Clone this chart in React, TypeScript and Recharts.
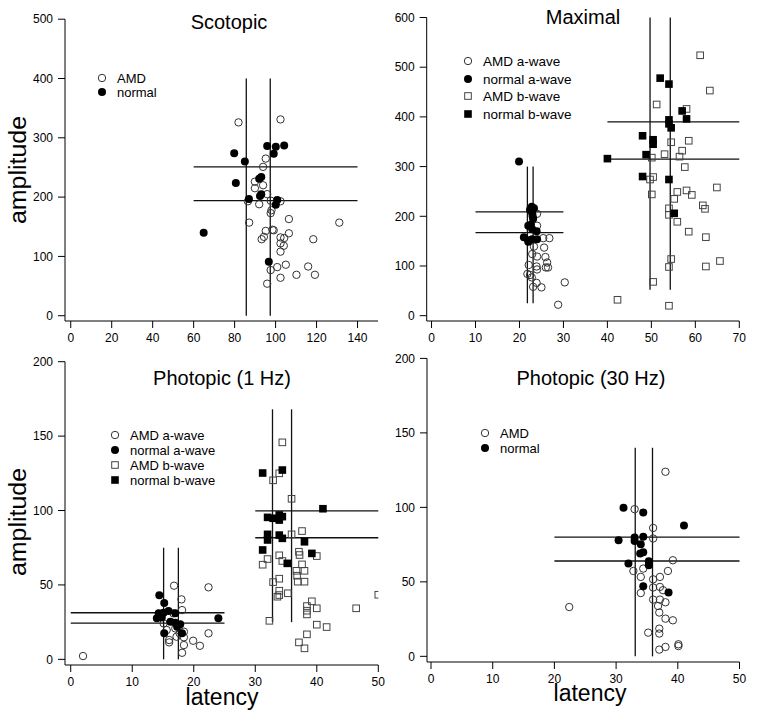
import React from "react";
import { ScatterChart, Scatter, XAxis, YAxis, ReferenceLine } from "recharts";

type Pt = [number, number];

// [latency, amplitude]
const scotopicAmd: Pt[] = [
  [81.9, 326], [102.4, 331], [95.2, 265], [93.9, 251], [89.9, 226], [89.9, 215], [93.9, 220], [95.9, 205],
  [86.5, 193], [92.0, 188], [97.6, 194], [102.4, 193], [98.0, 178], [97.6, 173], [87.1, 157], [106.5, 163],
  [131.1, 157], [95.2, 143], [98.5, 145], [99.1, 144], [106.5, 139], [93.2, 129], [94.3, 133], [102.4, 132],
  [104.2, 131], [102.4, 122], [104.0, 118], [102.4, 108], [118.4, 129], [105.0, 86], [100.8, 82], [97.6, 77],
  [115.9, 83], [110.2, 69], [119.2, 69], [102.4, 64], [95.9, 54],
];
const scotopicNormal: Pt[] = [
  [79.8, 274], [85.0, 260], [95.9, 286], [100.1, 285], [104.2, 287], [99.1, 273], [80.6, 224], [92.0, 231],
  [93.0, 234], [87.0, 197], [92.4, 202], [93.0, 205], [100.8, 195], [100.1, 187], [64.9, 140], [96.7, 91],
];

const maximalAmdA: Pt[] = [
  [24.0, 205], [24.0, 181], [25.4, 156], [26.8, 156], [23.3, 139], [25.6, 137], [22.9, 124], [24.0, 119],
  [25.9, 118], [26.3, 107], [26.0, 97], [26.5, 97], [23.9, 99], [22.1, 102], [24.0, 93], [21.8, 84],
  [22.4, 82], [22.8, 77], [23.9, 66], [23.1, 58], [25.0, 57], [28.8, 22], [30.3, 67],
];
const maximalNormalA: Pt[] = [
  [19.9, 310], [22.8, 219], [23.3, 216], [22.4, 213], [22.9, 206], [23.0, 200], [23.1, 195], [22.0, 181],
  [22.6, 183], [22.9, 174], [23.9, 170], [21.0, 158], [22.0, 152], [22.9, 154], [24.0, 154], [22.0, 149],
];
const maximalAmdB: Pt[] = [
  [61.1, 524], [63.3, 453], [51.2, 425], [58.0, 416], [54.5, 349], [58.5, 352], [57.0, 332], [53.0, 325],
  [56.4, 320], [50.1, 318], [57.6, 299], [50.4, 279], [49.7, 274], [50.1, 244], [55.9, 249], [58.0, 252],
  [59.2, 243], [55.2, 235], [64.9, 258], [61.7, 222], [62.2, 215], [54.0, 216], [54.0, 203], [55.9, 189],
  [58.5, 169], [62.4, 158], [54.5, 114], [54.0, 98], [62.4, 99], [65.6, 110], [50.4, 68], [42.3, 32], [54.0, 20],
];
const maximalNormalB: Pt[] = [
  [52.0, 478], [54.0, 466], [57.0, 412], [58.0, 396], [54.0, 394], [54.0, 386], [54.5, 378], [48.0, 362],
  [50.4, 354], [50.4, 345], [48.8, 324], [40.0, 316], [48.0, 280], [54.0, 274], [55.2, 206],
];

const photo1AmdA: Pt[] = [
  [16.8, 49.5], [22.4, 48.4], [18.0, 40.3], [18.1, 33.1], [16.7, 30.9], [15.1, 24.2], [15.6, 19.7], [17.0, 20.8],
  [18.4, 18.6], [22.4, 17.5], [18.4, 14.8], [17.2, 15.2], [16.0, 13], [16.0, 11.4], [19.9, 12.5], [21.0, 9.1],
  [18.4, 9.6], [18.1, 4.4], [2.0, 2.2], [17.7, 17.5],
];
const photo1NormalA: Pt[] = [
  [14.4, 43], [15.2, 37.8], [14.3, 30.9], [15.1, 31.3], [15.9, 32.5], [14.0, 27.6], [14.8, 28.2], [17.0, 30.9],
  [16.2, 25.3], [17.0, 24.6], [17.8, 23.5], [17.3, 21.9], [18.1, 17.5], [15.2, 17.5], [24.0, 27.6],
];
const photo1AmdB: Pt[] = [
  [34.4, 145.8], [33.9, 125], [32.9, 120.3], [35.9, 107.9], [37.6, 86.2], [35.9, 84], [37.1, 72.3], [37.2, 70.1],
  [40.0, 69.4], [33.9, 69.9], [34.4, 66.1], [32.0, 67.4], [31.2, 63.6], [37.6, 63.8], [36.7, 59.5], [38.0, 59.5],
  [36.8, 56.2], [36.9, 52.2], [38.0, 52.2], [33.9, 54.2], [32.9, 51.9], [33.9, 46.1], [33.6, 42.1], [33.9, 43.2],
  [35.3, 44.4], [50.0, 43.4], [39.2, 39], [38.4, 35.8], [38.4, 32.7], [40.0, 34.3], [38.4, 30.2], [46.4, 34.3],
  [32.3, 25.9], [40.0, 23.3], [41.6, 21.7], [38.4, 16.8], [37.1, 11.4], [38.0, 7.4],
];
const photo1NormalB: Pt[] = [
  [31.2, 125.2], [34.4, 127.2], [41.0, 101.2], [32.0, 95.4], [32.9, 94.8], [33.9, 97], [34.4, 95.9], [33.9, 93.6],
  [32.0, 84], [32.0, 80.2], [33.9, 83.5], [34.4, 81.3], [38.0, 79], [31.2, 73.5], [39.2, 71.2], [35.2, 64.5],
];

const photo30Amd: Pt[] = [
  [38.0, 123.9], [33.0, 98.8], [36.0, 86.2], [36.0, 79.1], [39.2, 64.5], [38.4, 57.3], [34.4, 58.9], [32.8, 57.3],
  [34.0, 53.3], [36.0, 51.7], [37.1, 53.3], [36.0, 46.2], [37.1, 46.6], [34.0, 42.5], [37.6, 44.4], [36.0, 38.1],
  [37.1, 38.1], [38.0, 36.3], [36.8, 33.8], [37.0, 29.4], [38.0, 25.3], [39.2, 24.2], [22.4, 33.1], [35.2, 15.9],
  [37.0, 18.6], [37.0, 15.3], [40.1, 8.1], [40.1, 6.9], [38.0, 6.3], [37.0, 4.5],
];
const photo30Normal: Pt[] = [
  [31.2, 99.7], [34.4, 96.6], [41.0, 87.8], [30.4, 78], [33.0, 79.8], [33.0, 77.5], [34.4, 80.2], [34.0, 75.3],
  [33.9, 69], [34.4, 69.9], [35.3, 63.8], [35.3, 61.2], [32.0, 62.3], [34.4, 47], [38.5, 42.8],
];

// crosshair lines: vertical at vx spanning vy, horizontal at hy spanning hx
const scotopicCross = [{ vx: [85.7, 97.4], vy: [0, 400], hy: [194, 251], hx: [60, 140] }];
const maximalCross = [
  { vx: [21.8, 23.1], vy: [25, 300], hy: [167, 209], hx: [10, 30] },
  { vx: [49.7, 54.3], vy: [52, 600], hy: [315, 390], hx: [40, 70] },
];
const photo1Cross = [
  { vx: [15.1, 17.5], vy: [0, 75], hy: [24.4, 31.3], hx: [0, 25] },
  { vx: [32.8, 35.9], vy: [25, 168], hy: [81.7, 99.7], hx: [30, 50] },
];
const photo30Cross = [{ vx: [33.1, 35.9], vy: [0, 140], hy: [64, 80], hx: [20, 50] }];

const W = 777;
const H = 714;
const FONT = "'Liberation Sans', Arial, sans-serif";
const TICK_FONT = "'Liberation Sans Narrow', 'Arial Narrow', 'Liberation Sans', Arial, sans-serif";

const toXY = (pts: Pt[]) => pts.map(([x, y]) => ({ x, y }));

const OpenCircle = (p: any) => <circle cx={p.cx} cy={p.cy} r={3.7} fill="none" stroke="#333" strokeWidth={1} />;
const DotCircle = (p: any) => <circle cx={p.cx} cy={p.cy} r={4} fill="#000" />;
const OpenSquare = (p: any) => (
  <rect x={p.cx - 3.3} y={p.cy - 3.3} width={6.6} height={6.6} fill="none" stroke="#444" strokeWidth={1} />
);
const DotSquare = (p: any) => <rect x={p.cx - 3.8} y={p.cy - 3.8} width={7.6} height={7.6} fill="#000" />;

type Cross = { vx: number[]; vy: number[]; hy: number[]; hx: number[] };

function crossLines(list: Cross[]) {
  const out: React.ReactNode[] = [];
  list.forEach((c, i) => {
    c.vx.forEach((x, j) =>
      out.push(
        <ReferenceLine key={`v${i}${j}`} segment={[{ x, y: c.vy[0] }, { x, y: c.vy[1] }]} stroke="#111" strokeWidth={1.3} ifOverflow="visible" />
      )
    );
    c.hy.forEach((y, j) =>
      out.push(
        <ReferenceLine key={`h${i}${j}`} segment={[{ x: c.hx[0], y }, { x: c.hx[1], y }]} stroke="#111" strokeWidth={1.3} ifOverflow="visible" />
      )
    );
  });
  return out;
}

type Box = { left: number; top: number; right: number; bottom: number };

function Panel(props: {
  box: Box;
  xDomain: number[];
  xTicks: number[];
  yDomain: number[];
  yTicks: number[];
  series: { data: Pt[]; shape: any }[];
  cross: Cross[];
}) {
  const { box } = props;
  const YW = 40;
  const XH = 30;
  const tick = { fontSize: 12, fill: "#000", fontFamily: TICK_FONT };
  return (
    <div style={{ position: "absolute", left: 0, top: 0 }}>
      <ScatterChart
        width={W}
        height={H}
        margin={{ top: box.top, left: box.left - YW, right: W - box.right, bottom: H - box.bottom - XH }}
      >
        <XAxis
          type="number"
          dataKey="x"
          domain={props.xDomain}
          ticks={props.xTicks}
          interval={0}
          allowDataOverflow
          height={XH}
          tickSize={7}
          tickMargin={5}
          tick={tick}
          axisLine={{ stroke: "#000" }}
          tickLine={{ stroke: "#000" }}
        />
        <YAxis
          type="number"
          dataKey="y"
          domain={props.yDomain}
          ticks={props.yTicks}
          interval={0}
          allowDataOverflow
          width={YW}
          tickSize={7}
          tickMargin={5}
          tick={tick}
          axisLine={{ stroke: "#000" }}
          tickLine={{ stroke: "#000" }}
        />
        {crossLines(props.cross)}
        {props.series.map((s, i) => (
          <Scatter key={i} data={toXY(s.data)} shape={s.shape} isAnimationActive={false} />
        ))}
      </ScatterChart>
    </div>
  );
}

function LegendItem({ x, y, kind, label, size = 13 }: { x: number; y: number; kind: string; label: string; size?: number }) {
  let sym: React.ReactNode;
  if (kind === "oc") sym = <circle cx={x} cy={y} r={3.7} fill="none" stroke="#333" />;
  else if (kind === "fc") sym = <circle cx={x} cy={y} r={4} fill="#000" />;
  else if (kind === "os") sym = <rect x={x - 3.3} y={y - 3.3} width={6.6} height={6.6} fill="none" stroke="#444" />;
  else sym = <rect x={x - 3.8} y={y - 3.8} width={7.6} height={7.6} fill="#000" />;
  return (
    <g>
      {sym}
      <text x={x + 15} y={y} dominantBaseline="central" fontSize={size} fontFamily={FONT} fill="#000">
        {label}
      </text>
    </g>
  );
}

const range = (a: number, b: number, s: number) => {
  const r: number[] = [];
  for (let v = a; v <= b; v += s) r.push(v);
  return r;
};

export default function App() {
  return (
    <div style={{ position: "absolute", left: 0, top: 0, width: W, height: H, background: "#fff", overflow: "hidden" }}>
      <Panel
        box={{ left: 65, top: 19.2, right: 378, bottom: 321 }}
        xDomain={[-2.8, 150]}
        xTicks={range(0, 140, 20)}
        yDomain={[-8.9, 500]}
        yTicks={range(0, 500, 100)}
        series={[
          { data: scotopicAmd, shape: OpenCircle },
          { data: scotopicNormal, shape: DotCircle },
        ]}
        cross={scotopicCross}
      />
      <Panel
        box={{ left: 426.7, top: 17.5, right: 739.3, bottom: 321 }}
        xDomain={[-1.1, 70]}
        xTicks={range(0, 70, 10)}
        yDomain={[-10.7, 600]}
        yTicks={range(0, 600, 100)}
        series={[
          { data: maximalAmdA, shape: OpenCircle },
          { data: maximalNormalA, shape: DotCircle },
          { data: maximalAmdB, shape: OpenSquare },
          { data: maximalNormalB, shape: DotSquare },
        ]}
        cross={maximalCross}
      />
      <Panel
        box={{ left: 65, top: 361.7, right: 378.3, bottom: 665 }}
        xDomain={[-0.93, 50]}
        xTicks={range(0, 50, 10)}
        yDomain={[-3.8, 200]}
        yTicks={range(0, 200, 50)}
        series={[
          { data: photo1AmdA, shape: OpenCircle },
          { data: photo1NormalA, shape: DotCircle },
          { data: photo1AmdB, shape: OpenSquare },
          { data: photo1NormalB, shape: DotSquare },
        ]}
        cross={photo1Cross}
      />
      <Panel
        box={{ left: 427, top: 358.4, right: 739.5, bottom: 662 }}
        xDomain={[-0.65, 50]}
        xTicks={range(0, 50, 10)}
        yDomain={[-3.8, 200]}
        yTicks={range(0, 200, 50)}
        series={[
          { data: photo30Amd, shape: OpenCircle },
          { data: photo30Normal, shape: DotCircle },
        ]}
        cross={photo30Cross}
      />
      <svg width={W} height={H} style={{ position: "absolute", left: 0, top: 0, pointerEvents: "none" }}>
        <g fontFamily={FONT} fill="#000" fontSize={20} textAnchor="middle">
          <text x={229} y={29}>Scotopic</text>
          <text x={583} y={24}>Maximal</text>
          <text x={222} y={385}>Photopic (1 Hz)</text>
          <text x={591} y={385}>Photopic (30 Hz)</text>
        </g>
        <g fontFamily={FONT} fill="#000" fontSize={23} textAnchor="middle">
          <text x={18} y={170} transform="rotate(-90 18 170)" dominantBaseline="central" textLength={108} lengthAdjust="spacingAndGlyphs">amplitude</text>
          <text x={18} y={522} transform="rotate(-90 18 522)" dominantBaseline="central" textLength={108} lengthAdjust="spacingAndGlyphs">amplitude</text>
          <text x={222} y={705}>latency</text>
          <text x={590} y={701}>latency</text>
        </g>
        <LegendItem x={102} y={78} kind="oc" label="AMD" />
        <LegendItem x={102} y={92} kind="fc" label="normal" />
        <LegendItem x={468} y={61} kind="oc" label="AMD a-wave" size={13.5} />
        <LegendItem x={468} y={79} kind="fc" label="normal a-wave" size={13.5} />
        <LegendItem x={468} y={96} kind="os" label="AMD b-wave" size={13.5} />
        <LegendItem x={468} y={114} kind="fs" label="normal b-wave" size={13.5} />
        <LegendItem x={115} y={435} kind="oc" label="AMD a-wave" />
        <LegendItem x={115} y={450} kind="fc" label="normal a-wave" />
        <LegendItem x={115} y={465} kind="os" label="AMD b-wave" />
        <LegendItem x={115} y={480} kind="fs" label="normal b-wave" />
        <LegendItem x={485} y={433} kind="oc" label="AMD" />
        <LegendItem x={485} y={448} kind="fc" label="normal" />
      </svg>
    </div>
  );
}
